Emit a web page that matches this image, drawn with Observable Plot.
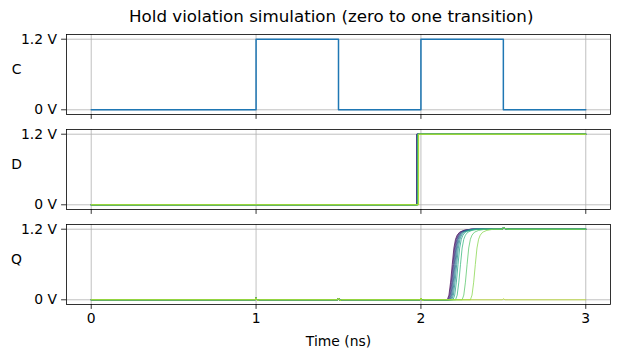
<!DOCTYPE html>
<html><head><meta charset="utf-8">
<script src="https://cdn.jsdelivr.net/npm/d3@7"></script>
<script src="https://cdn.jsdelivr.net/npm/@observablehq/plot@0.6"></script>
<style>
body{margin:0;background:#fff;}
#wrap{position:relative;width:619px;height:357px;font-family:"DejaVu Sans",sans-serif;overflow:hidden;}
#title{position:absolute;left:129px;width:400px;top:6px;text-align:center;font-size:16.7px;line-height:20px;color:#000;white-space:nowrap;}
.panel{position:absolute;left:0;}
</style></head><body>
<div id="wrap"><div id="title">Hold violation simulation (zero to one transition)</div></div>
<script>
// ---- data ----
const xTicks = [0, 1, 2, 3];
const yTicks = [0, 1.2];
const yTickLabels = ["0 V", "1.2 V"];
const panelLabels = ["C", "D", "Q"];

// clock
const clockTime = [0, 1, 1, 1.5, 1.5, 2, 2, 2.5, 2.5, 3];
const clockVolt = [0, 0, 1.2, 1.2, 0, 0, 1.2, 1.2, 0, 0];

// D: edge time of each sweep (zero -> one)
const dEdge = [1.974, 1.975, 1.976, 1.977, 1.978, 1.979, 1.980, 1.981, 1.982, 1.983, 1.984, 1.986];

// Q: start of rise for each sweep (null = never captures)
const qStart = [2.160, 2.164, 2.168, 2.172, 2.176, 2.181, 2.187, 2.195, 2.210, 2.250, 2.300, null];
// Q rise shape (time after start, volts)
const qRiseDt = [0, 0.01, 0.02, 0.03, 0.04, 0.05, 0.06, 0.075, 0.1, 0.14];
const qRiseV  = [0, 0.08, 0.30, 0.60, 0.88, 1.03, 1.10, 1.15, 1.18, 1.2];
// clock feed-through glitches while low
const qLowGlitchT = [0.995, 1.0, 1.008, 1.02, 1.495, 1.5, 1.508, 1.52, 1.995, 2.0, 2.008, 2.02];
const qLowGlitchV = [0, 0.035, -0.01, 0, 0, 0.03, -0.01, 0, 0, 0.03, -0.01, 0];
// glitch at 2.5 ns
const qEdgeGlitchT = [2.495, 2.5, 2.51, 2.53];
const qHighGlitchV = [1.2, 1.23, 1.21, 1.2];
const qFlatGlitchV = [0, 0.02, 0, 0];

// ---- build tables ----
const N = dEdge.length;
const colors = d3.range(N).map(i => d3.interpolateViridis(i / (N - 1) * 0.9));
const clock = clockTime.map((t, i) => ({t, v: clockVolt[i]}));
const dSeries = dEdge.map(e => [{t: 0, v: 0}, {t: e, v: 0}, {t: e + 0.0005, v: 1.2}, {t: 3, v: 1.2}]);
const qSeries = qStart.map(s => {
  const pts = [{t: 0, v: 0}];
  qLowGlitchT.forEach((t, i) => pts.push({t, v: qLowGlitchV[i]}));
  if (s === null) {
    qEdgeGlitchT.forEach((t, i) => pts.push({t, v: qFlatGlitchV[i]}));
    pts.push({t: 3, v: 0});
  } else {
    qRiseDt.forEach((dt, i) => pts.push({t: s + dt, v: qRiseV[i]}));
    qEdgeGlitchT.forEach((t, i) => pts.push({t, v: qHighGlitchV[i]}));
    pts.push({t: 3, v: 1.2});
  }
  return pts;
});

// ---- panels ----
const frameTops = [34, 129, 224];
const frameH = 80;
const wrap = document.getElementById("wrap");

function panel(idx, lineMarks) {
  const bottom = idx === 2;
  const mt = 5, mb = bottom ? 53 : 12;
  const chart = Plot.plot({
    width: 619,
    height: mt + frameH + mb,
    marginLeft: 66, marginRight: 9, marginTop: mt, marginBottom: mb,
    style: {fontFamily: "DejaVu Sans", fontSize: "13.9px", color: "#000", background: "transparent", overflow: "visible"},
    x: {domain: [-0.15, 3.15]},
    y: {domain: [-0.08, 1.28]},
    marks: [
      Plot.gridX({ticks: xTicks, stroke: "#b0b0b0", strokeOpacity: 1, strokeWidth: 0.8}),
      Plot.gridY({ticks: yTicks, stroke: "#b0b0b0", strokeOpacity: 1, strokeWidth: 0.8}),
      ...lineMarks,
      Plot.frame({stroke: "#000", strokeWidth: 0.8}),
      Plot.axisY({ticks: yTicks, tickSize: 4.9, tickPadding: 4.6, strokeWidth: 0.8,
        tickFormat: d => yTickLabels[yTicks.indexOf(d)], label: null}),
      Plot.axisX({ticks: xTicks, tickSize: 4.9, tickPadding: 4, strokeWidth: 0.8,
        tickFormat: bottom ? (d => String(d)) : (() => ""),
        label: bottom ? "Time (ns)" : null, labelAnchor: "center", labelArrow: "none", labelOffset: 41}),
      Plot.text([panelLabels[idx]], {frameAnchor: "left", dx: -50, dy: -1, text: d => d,
        textAnchor: "middle", lineAnchor: "bottom", fontSize: 13.9})
    ]
  });
  const div = document.createElement("div");
  div.className = "panel";
  div.style.top = (frameTops[idx] - mt) + "px";
  div.appendChild(chart);
  wrap.appendChild(div);
}

panel(0, [Plot.line(clock, {x: "t", y: "v", stroke: "#1f77b4", strokeWidth: 1.5})]);
panel(1, dSeries.map((s, i) => Plot.line(s, {x: "t", y: "v", stroke: colors[i], strokeWidth: 0.8})));
panel(2, qSeries.map((s, i) => Plot.line(s, {x: "t", y: "v", stroke: colors[i], strokeWidth: 0.75})));
</script></body></html>
